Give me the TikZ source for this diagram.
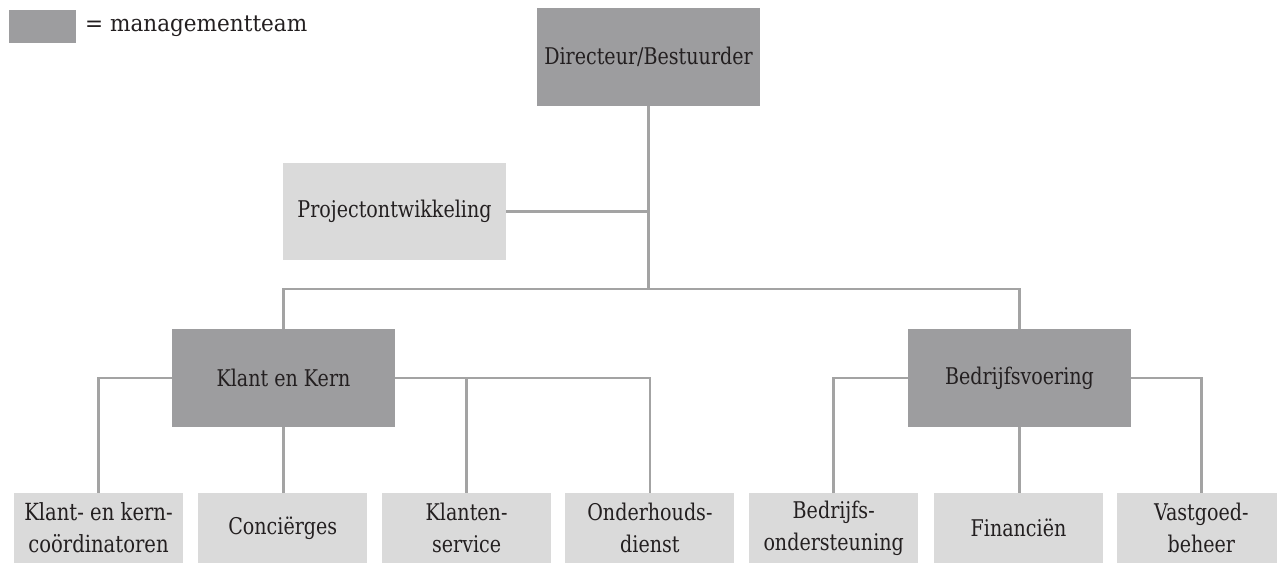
\documentclass[tikz,border=0pt]{standalone}
\usepackage{fontspec}
\setmainfont{DejaVu Serif}[FakeStretch=0.83]
\definecolor{dark}{RGB}{157,157,159}
\definecolor{light}{RGB}{218,218,218}
\definecolor{linec}{RGB}{163,163,163}
\definecolor{txt}{RGB}{35,31,32}
\begin{document}
\begin{tikzpicture}[x=1pt,y=-1pt,
  box/.style={rectangle, inner sep=0pt, align=center, text=txt, font=\fontsize{23}{31.7}\selectfont},
  mgmt/.style={box, fill=dark, minimum width=223pt, minimum height=98pt},
  unit/.style={box, fill=light, minimum width=169pt, minimum height=70pt},
  conn/.style={draw=linec, line width=2.7pt}]
\useasboundingbox (0,0) rectangle (1277,564);
\clip (0,0) rectangle (1277,564);
% legend
\node[fill=dark, minimum width=67pt, minimum height=33pt, inner sep=0pt] (lg) at (42.5,26.5) {};
\node[anchor=west, inner sep=0pt, text=txt, font=\fontsize{23}{27}\selectfont] (lgt) at (85,26) {\scalebox{1.13}[1]{= managementteam}};
% management
\node[mgmt] (dir) at (648.5,57) {Directeur/Bestuurder};
\node[box, fill=light, minimum width=223pt, minimum height=97pt] (proj) at (394.5,211.5) {Projectontwikkeling};
\node[mgmt] (kk) at (283.5,378) {Klant en Kern};
\node[mgmt] (bv) at (1019.5,378) {Bedrijfsvoering};
% units
\node[unit, font=\fontsize{23.6}{31.7}\selectfont] (b1) at (98.5,528) {Klant- en kern-\\coördinatoren};
\node[unit] (b2) at (282.8,528) {Conciërges};
\node[unit] (b3) at (466.6,528) {Klanten-\\service};
\node[unit] (b4) at (649.9,528) {Onderhouds-\\dienst};
\node[unit] (b5) at (833.7,528) {Bedrijfs-\\ondersteuning};
\node[unit] (b6) at (1018.5,528) {Financiën};
\node[unit] (b7) at (1201.3,528) {Vastgoed-\\beheer};
% connectors
\coordinate (bus) at (648.5,289);
\draw[conn] (dir.south) -- (bus);
\draw[conn] (proj.east) -- (proj.east -| bus);
\draw[conn] (kk.north) |- (bus) -| (bv.north);
\draw[conn] (b1.north) |- (kk.west);
\draw[conn] (kk.south) -- (kk.south |- b2.north);
\draw[conn] (kk.east) -| (b4.north);
\draw[conn] (b3.north) -- (b3.north |- kk.east);
\draw[conn] (b5.north) |- (bv.west);
\draw[conn] (bv.south) -- (bv.south |- b6.north);
\draw[conn] (bv.east) -| (b7.north);
\end{tikzpicture}
\end{document}
